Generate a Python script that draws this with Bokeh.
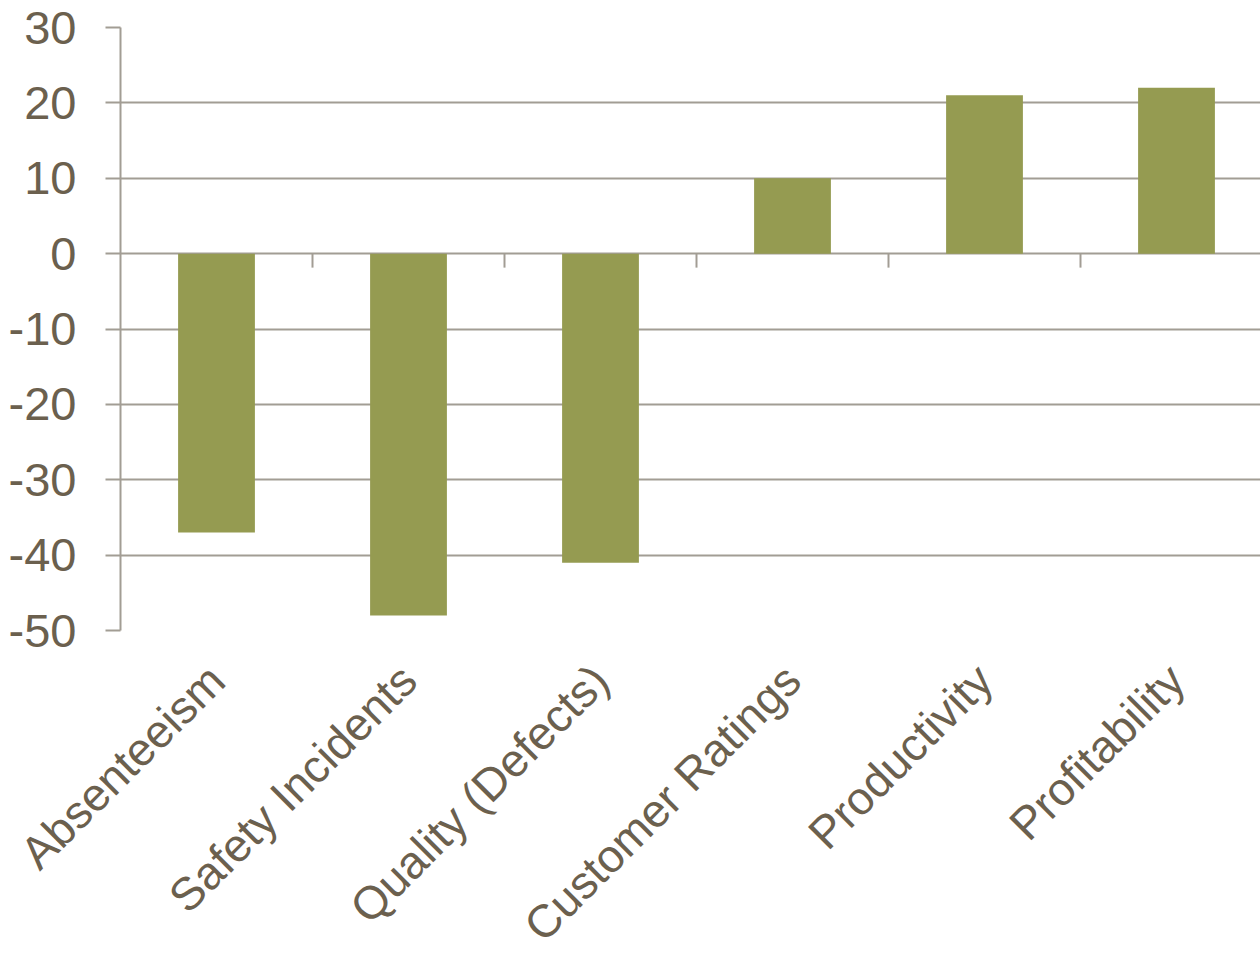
import math
from bokeh.plotting import figure
from bokeh.models import Range1d, FixedTicker, ColumnDataSource
from bokeh.embed import file_html
from bokeh.resources import INLINE

categories = ["Absenteeism", "Safety Incidents", "Quality (Defects)",
              "Customer Ratings", "Productivity", "Profitability"]
values = [-37, -48, -41, 10, 21, 22]
y_ticks = [-50, -40, -30, -20, -10, 0, 10, 20, 30]

BAR = "#959B51"
GRID = "#A29D94"
TEXT = "#6B604E"
FONT = "Liberation Sans"

n = len(categories)
centers = [i + 0.5 for i in range(n)]
boundaries = list(range(1, n))

p = figure(frame_width=1140, frame_height=603, output_backend="svg",
           toolbar_location=None,
           x_range=Range1d(0, 1140 / 192), y_range=Range1d(-50, 30),
           min_border_left=120, min_border_top=27, min_border_right=0,
           min_border_bottom=326)
p.outline_line_color = None
p.background_fill_color = "white"
p.border_fill_color = "white"

# grid
p.xgrid.visible = False
p.ygrid.ticker = FixedTicker(ticks=y_ticks)
p.ygrid.grid_line_color = GRID
p.ygrid.grid_line_width = 2

# bars
src = ColumnDataSource(dict(x=centers, top=values))
p.vbar(x="x", top="top", bottom=0, width=0.4, source=src,
       fill_color=BAR, line_color=None)

# tick marks at category boundaries on the zero line
tick_len = 14 * 80 / 603
p.segment(x0=boundaries, x1=boundaries, y0=[0] * len(boundaries),
          y1=[-tick_len] * len(boundaries), line_color=GRID, line_width=2)

# y axis
ya = p.yaxis[0]
ya.ticker = FixedTicker(ticks=y_ticks)
ya.major_label_overrides = {t: str(t) for t in y_ticks}
ya.axis_line_color = GRID
ya.axis_line_width = 2
ya.major_tick_line_color = GRID
ya.major_tick_line_width = 2
ya.major_tick_out = 15
ya.major_tick_in = 0
ya.minor_tick_line_color = None
ya.major_label_text_font = FONT
ya.major_label_text_font_size = "47px"
ya.major_label_text_color = TEXT
ya.major_label_standoff = 29

# x axis
xa = p.xaxis[0]
xa.ticker = FixedTicker(ticks=centers)
xa.major_label_overrides = {c: lab for c, lab in zip(centers, categories)}
xa.axis_line_color = None
xa.major_tick_line_color = None
xa.minor_tick_line_color = None
xa.major_label_orientation = math.pi / 4
xa.major_label_text_font = FONT
xa.major_label_text_font_size = "46px"
xa.major_label_text_color = TEXT
xa.major_label_standoff = 36

open("out.html", "w").write(file_html(p, INLINE))
